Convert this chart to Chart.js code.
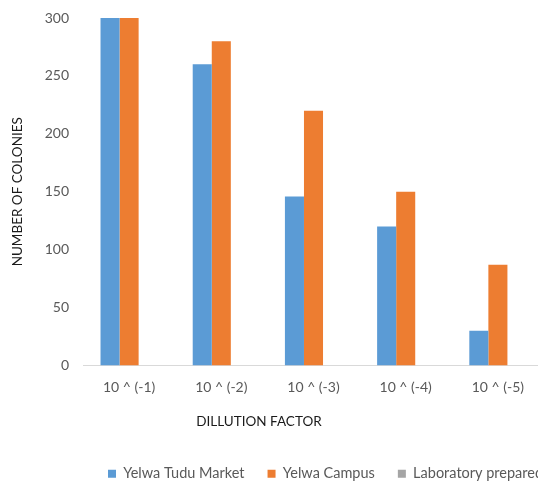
<!DOCTYPE html>
<html>
<head>
<meta charset="utf-8">
<script src="https://cdn.jsdelivr.net/npm/chart.js@4/dist/chart.umd.min.js"></script>
<style>
  html, body { margin: 0; padding: 0; background: #fff; overflow: hidden; }
  #wrap { width: 544px; height: 482px; position: relative; }
</style>
</head>
<body>
<div id="wrap"><canvas id="colonyChart"></canvas></div>
<script>
const dilutions = ['10 ^ (-1)', '10 ^ (-2)', '10 ^ (-3)', '10 ^ (-4)', '10 ^ (-5)']
const tuduMarket = [300, 260, 146, 120, 30]
const yelwaCampus = [300, 280, 220, 150, 87]
const labPrepared = [0, 0, 0, 0, 0]
const yTicks = [0, 50, 100, 150, 200, 250, 300]

const tickColor = '#595959'
const titleColor = '#1a1a1a'

// legend and x title sit off-centre, so nudge their boxes before drawing
const shiftBoxes = {
    id: 'shiftBoxes',
    beforeDraw(chart) {
        chart.legend.left = 85
        chart.legend.right = 900
        chart.titleBlock.left = 0
        chart.titleBlock.right = 518
    }
}

var ctx = document.getElementById('colonyChart').getContext('2d');
var colonyChart = new Chart(ctx, {
    type: 'bar',
    data: {
        labels: dilutions,
        datasets: [{
            label: 'Yelwa Tudu Market',
            data: tuduMarket,
            backgroundColor: '#5B9BD5'
        }, {
            label: 'Yelwa Campus',
            data: yelwaCampus,
            backgroundColor: '#ED7D31'
        }, {
            label: 'Laboratory prepared',
            data: labPrepared,
            backgroundColor: '#A5A5A5'
        }]
    },
    plugins: [shiftBoxes],
    options: {
        responsive: true,
        maintainAspectRatio: false,
        animation: false,
        layout: {
            padding: { top: 18, left: 0, right: 0, bottom: -9 }
        },
        datasets: {
            bar: { categoryPercentage: 0.62, barPercentage: 1.0 }
        },
        scales: {
            x: {
                grid: { display: false, drawTicks: false },
                border: { color: '#d9d9d9', width: 1 },
                ticks: {
                    color: tickColor,
                    padding: 14,
                    font: { family: 'Lato', size: 14 }
                }
            },
            y: {
                min: 0,
                max: 300,
                afterBuildTicks(scale) {
                    scale.ticks = yTicks.map(v => ({ value: v }))
                },
                afterFit(scale) {
                    scale.width = 83
                    scale.paddingTop = 4
                    scale.paddingBottom = 4
                },
                grid: { display: false, drawTicks: false },
                border: { display: false },
                ticks: {
                    color: tickColor,
                    padding: 14,
                    font: { family: 'Lato', size: 14 }
                },
                title: {
                    display: true,
                    text: 'NUMBER OF COLONIES',
                    color: titleColor,
                    padding: { top: 10, bottom: 0 },
                    font: { family: 'Lato', size: 13.5 }
                }
            }
        },
        plugins: {
            title: {
                display: true,
                text: 'DILLUTION FACTOR',
                position: 'bottom',
                align: 'center',
                weight: 500,
                color: titleColor,
                padding: { top: 3, bottom: 14 },
                font: { family: 'Lato', size: 13.5, weight: 'normal' }
            },
            legend: {
                position: 'bottom',
                align: 'start',
                labels: {
                    boxWidth: 8,
                    boxHeight: 8,
                    padding: 23,
                    color: tickColor,
                    font: { family: 'Lato', size: 14.5 }
                }
            },
            tooltip: { enabled: false }
        }
    }
});
</script>
</body>
</html>
